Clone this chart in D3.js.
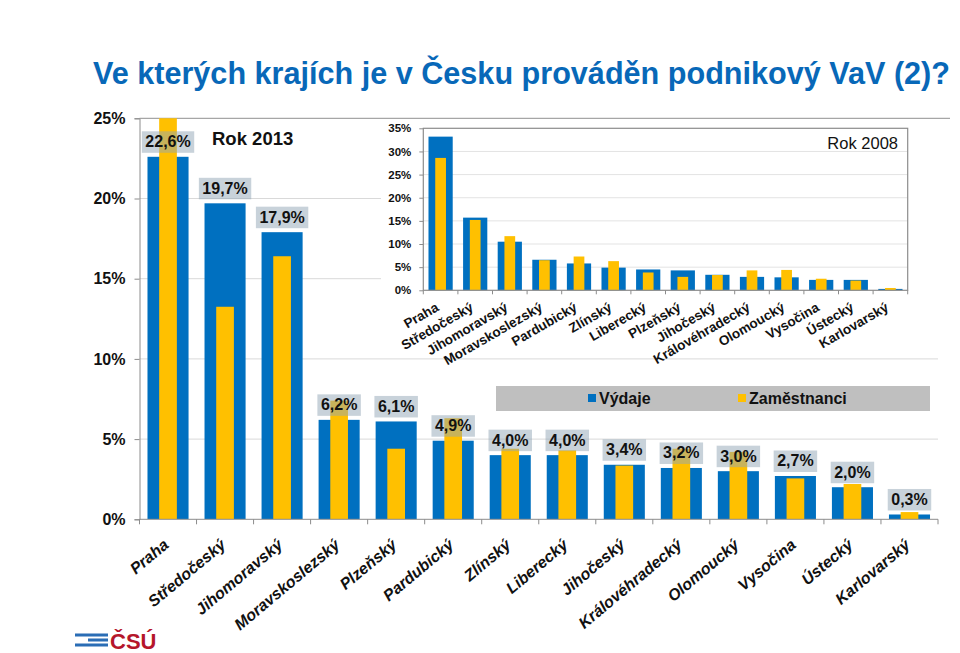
<!DOCTYPE html>
<html><head><meta charset="utf-8">
<script src="https://cdn.jsdelivr.net/npm/d3@7"></script>
<style>
html,body{margin:0;padding:0;background:#fff;}
svg text{font-family:Arial,"Liberation Sans",Helvetica,sans-serif;}
</style></head>
<body>
<svg id="c" width="960" height="653"></svg>
<script>
// ---- data ----
const regions2013 = ["Praha","Středočeský","Jihomoravský","Moravskoslezský","Plzeňský","Pardubický","Zlínský","Liberecký","Jihočeský","Královéhradecký","Olomoucký","Vysočina","Ústecký","Karlovarský"];
const vydaje2013 = [22.6,19.7,17.9,6.2,6.1,4.9,4.0,4.0,3.4,3.2,3.0,2.7,2.0,0.3];
const zamestnanci2013 = [27.0,13.25,16.4,7.4,4.4,6.3,4.4,4.3,3.35,4.4,4.2,2.55,2.2,0.45];
const regions2008 = ["Praha","Středočeský","Jihomoravský","Moravskoslezský","Pardubický","Zlínský","Liberecký","Plzeňský","Jihočeský","Královéhradecký","Olomoucký","Vysočina","Ústecký","Karlovarský"];
const vydaje2008 = [33.2,15.7,10.5,6.6,5.8,4.9,4.5,4.3,3.35,2.9,2.8,2.25,2.25,0.3];
const zamestnanci2008 = [28.6,15.2,11.7,6.5,7.3,6.3,3.85,2.9,3.3,4.3,4.4,2.5,2.1,0.5];
const mainTicks = [0,5,10,15,20,25];
const insetTicks = [0,5,10,15,20,25,30,35];
const seriesNames = ["Výdaje","Zaměstnanci"];
const titleText = "Ve kterých krajích je v Česku prováděn podnikový VaV (2)?";

const BLUE = "#0070c0", YELLOW = "#ffc000", GRID = "#d9d9d9", AXIS = "#8c8c8c";
const pct = v => d3.format(".1f")(v).replace(".", ",") + "%";

const svg = d3.select("#c");

// ---- title ----
svg.append("text").attr("x", 93).attr("y", 84)
  .attr("font-size", 30.6).attr("font-weight", "bold").attr("fill", "#0868b8")
  .text(titleText);

// ---- main chart ----
const x = d3.scaleBand().domain(regions2013).range([139.5, 938]);
const y = d3.scaleLinear().domain([0, 25]).range([519.3, 118.3]);
const main = svg.append("g");
main.append("clipPath").attr("id", "mclip").append("rect")
  .attr("x", 139.5).attr("y", y(25)).attr("width", 800).attr("height", y(0) - y(25));

main.append("g").selectAll("line").data(mainTicks.slice(1, -1)).join("line")
  .attr("x1", 139.5).attr("x2", 938).attr("y1", d => y(d)).attr("y2", d => y(d))
  .attr("stroke", GRID).attr("stroke-width", 1);
main.append("line").attr("x1", 139.5).attr("x2", 950).attr("y1", y(25)).attr("y2", y(25))
  .attr("stroke", "#a6a6a6").attr("stroke-width", 1.2);

const bw = x.bandwidth();
const bars = main.append("g").attr("clip-path", "url(#mclip)");
bars.selectAll("rect.v").data(vydaje2013).join("rect").attr("class", "v")
  .attr("x", (d, i) => x(regions2013[i]) + bw * 0.14).attr("width", bw * 0.72)
  .attr("y", d => y(d)).attr("height", d => y(0) - y(d)).attr("fill", BLUE);
bars.selectAll("rect.z").data(zamestnanci2013).join("rect").attr("class", "z")
  .attr("x", (d, i) => x(regions2013[i]) + bw * 0.345).attr("width", bw * 0.31)
  .attr("y", d => y(d)).attr("height", d => y(0) - y(d)).attr("fill", YELLOW);

// value labels
const lab = main.append("g");
vydaje2013.forEach((v, i) => {
  const cx = x(regions2013[i]) + bw / 2;
  const g = lab.append("g");
  const t = g.append("text").attr("x", cx).attr("y", y(v) - 9.5)
    .attr("text-anchor", "middle").attr("font-size", 16).attr("font-weight", "bold")
    .attr("fill", "#111").text(pct(v));
  const w = t.node().getComputedTextLength() + 7;
  g.insert("rect", "text").attr("x", cx - w / 2).attr("y", y(v) - 25.5)
    .attr("width", w).attr("height", 21.5).attr("fill", "#91a5b5").attr("opacity", 0.5);
});

// axes
main.append("g").attr("transform", `translate(139.5,0)`)
  .call(d3.axisLeft(y).tickValues(mainTicks).tickSize(5).tickFormat(d => d + "%").tickPadding(9))
  .call(g => g.selectAll("path,line").attr("stroke", AXIS))
  .call(g => g.selectAll("text").attr("font-size", 16).attr("font-weight", "bold").attr("fill", "#111"));
const xa = main.append("g").attr("transform", `translate(0,${y(0)})`);
xa.append("line").attr("x1", 139.5).attr("x2", 938).attr("stroke", AXIS);
xa.selectAll("line.t").data(d3.range(regions2013.length + 1)).join("line").attr("class", "t")
  .attr("x1", i => 139.5 + i * bw).attr("x2", i => 139.5 + i * bw).attr("y1", 0).attr("y2", 5).attr("stroke", AXIS);
xa.selectAll("text").data(regions2013).join("text")
  .attr("transform", d => `translate(${x(d) + bw / 2 - 6},${18}) rotate(-40)`)
  .attr("text-anchor", "end").attr("dy", "0.75em")
  .attr("font-size", 16).attr("font-weight", "bold").attr("font-style", "italic").attr("fill", "#111")
  .text(d => d);

svg.append("text").attr("x", 212).attr("y", 145).attr("font-size", 18.5).attr("font-weight", "bold")
  .attr("fill", "#111").text("Rok 2013");

// ---- legend ----
const lg = svg.append("g");
lg.append("rect").attr("x", 496).attr("y", 386).attr("width", 434).attr("height", 25).attr("fill", "#bfbfbf");
[[588, BLUE, seriesNames[0]], [738, YELLOW, seriesNames[1]]].forEach(([lx, c, n]) => {
  lg.append("rect").attr("x", lx).attr("y", 394).attr("width", 8).attr("height", 8).attr("fill", c);
  lg.append("text").attr("x", lx + 11).attr("y", 404).attr("font-size", 16).attr("font-weight", "bold")
    .attr("fill", "#111").text(n);
});

// ---- inset chart (2008) ----
const ins = svg.append("g");
ins.append("rect").attr("x", 381).attr("y", 120).attr("width", 569).attr("height", 236).attr("fill", "#fff");
const xi = d3.scaleBand().domain(regions2008).range([423.3, 907.7]);
const yi = d3.scaleLinear().domain([0, 35]).range([290.3, 128.3]);
const bwi = xi.bandwidth();
ins.append("g").selectAll("line").data(insetTicks.slice(1, -1)).join("line")
  .attr("x1", 423.3).attr("x2", 907.7).attr("y1", d => yi(d)).attr("y2", d => yi(d))
  .attr("stroke", "#e3e3e3");
ins.selectAll("rect.v").data(vydaje2008).join("rect").attr("class", "v")
  .attr("x", (d, i) => xi(regions2008[i]) + bwi * 0.15).attr("width", bwi * 0.7)
  .attr("y", d => yi(d)).attr("height", d => yi(0) - yi(d)).attr("fill", BLUE);
ins.selectAll("rect.z").data(zamestnanci2008).join("rect").attr("class", "z")
  .attr("x", (d, i) => xi(regions2008[i]) + bwi * 0.345).attr("width", bwi * 0.31)
  .attr("y", d => yi(d)).attr("height", d => yi(0) - yi(d)).attr("fill", YELLOW);
ins.append("rect").attr("x", 423.3).attr("y", 128.3).attr("width", 484.4).attr("height", 162)
  .attr("fill", "none").attr("stroke", "#8c8c8c").attr("stroke-width", 1.2);
ins.append("g").attr("transform", "translate(423.3,0)")
  .call(d3.axisLeft(yi).tickValues(insetTicks).tickSize(4).tickFormat(d => d + "%").tickPadding(8))
  .call(g => g.select("path").remove())
  .call(g => g.selectAll("line").attr("stroke", AXIS))
  .call(g => g.selectAll("text").attr("font-size", 11.5).attr("font-weight", "bold").attr("fill", "#111"));
const xia = ins.append("g").attr("transform", `translate(0,${yi(0)})`);
xia.selectAll("line.t").data(d3.range(regions2008.length + 1)).join("line").attr("class", "t")
  .attr("x1", i => 423.3 + i * bwi).attr("x2", i => 423.3 + i * bwi).attr("y1", 0).attr("y2", 4).attr("stroke", AXIS);
xia.selectAll("text").data(regions2008).join("text")
  .attr("transform", d => `translate(${xi(d) + bwi / 2 - 6},${11}) rotate(-30)`)
  .attr("text-anchor", "end").attr("dy", "0.75em")
  .attr("font-size", 13.5).attr("font-weight", "bold").attr("fill", "#111")
  .text(d => d);
ins.append("text").attr("x", 898).attr("y", 149).attr("text-anchor", "end")
  .attr("font-size", 16.5).attr("fill", "#111").text("Rok 2008");

// ---- logo ----
const logo = svg.append("g");
[[75, 635, 33], [88, 640, 20], [75, 645, 33]].forEach(([lx, ly, lw]) => {
  logo.append("rect").attr("x", lx).attr("y", ly - 1.5).attr("width", lw).attr("height", 3).attr("fill", "#2a6db5");
});
logo.append("text").attr("x", 110).attr("y", 649).attr("font-size", 22).attr("font-weight", "bold")
  .attr("fill", "#b5162b").text("ČSÚ");
</script>
</body></html>
